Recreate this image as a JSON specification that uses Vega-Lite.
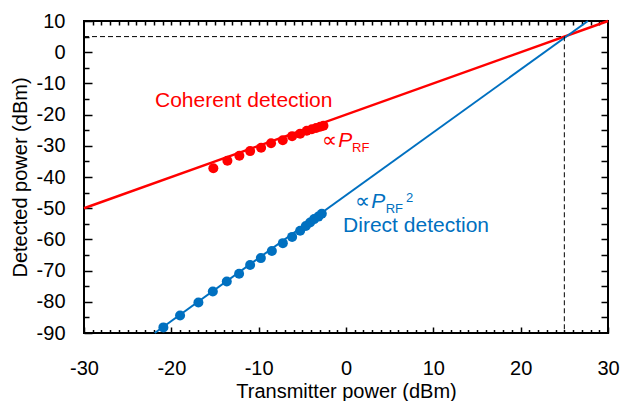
{
  "$schema": "https://vega.github.io/schema/vega-lite/v6.json",
  "width": 524,
  "height": 312,
  "autosize": "none",
  "padding": {"left": 84, "top": 21, "right": 13, "bottom": 68},
  "background": "white",
  "config": {
    "font": "Liberation Sans",
    "view": {"stroke": "black", "strokeWidth": 2},
    "axis": {
      "grid": false,
      "domain": false,
      "labelFont": "Liberation Sans",
      "labelFontSize": 20,
      "labelColor": "black",
      "labelFlush": false,
      "titleFont": "Liberation Sans",
      "titleFontSize": 20,
      "titleFontWeight": "normal",
      "titleColor": "black",
      "tickColor": "black",
      "tickWidth": 1.5
    }
  },
  "datasets": {
    "lines": [
      {"series": "Coherent", "x": -30, "y": -50, "o": 1},
      {"series": "Coherent", "x": 30, "y": 10, "o": 2},
      {"series": "Direct", "x": -21.9, "y": -90, "o": 1},
      {"series": "Direct", "x": 27.7, "y": 10, "o": 2}
    ],
    "dash": [
      {"x": -30, "y": 5, "o": 1},
      {"x": 25, "y": 5, "o": 2},
      {"x": 25, "y": -90, "o": 3}
    ],
    "points": [
      {"series": "Coherent", "x": -15.19, "y": -37.2},
      {"series": "Coherent", "x": -13.58, "y": -34.8},
      {"series": "Coherent", "x": -12.21, "y": -33.2},
      {"series": "Coherent", "x": -10.98, "y": -31.7},
      {"series": "Coherent", "x": -9.72, "y": -30.6},
      {"series": "Coherent", "x": -8.58, "y": -29.2},
      {"series": "Coherent", "x": -7.24, "y": -28.2},
      {"series": "Coherent", "x": -6.17, "y": -26.9},
      {"series": "Coherent", "x": -5.25, "y": -26.1},
      {"series": "Coherent", "x": -4.49, "y": -25.2},
      {"series": "Coherent", "x": -3.91, "y": -24.7},
      {"series": "Coherent", "x": -3.42, "y": -24.3},
      {"series": "Coherent", "x": -2.96, "y": -23.9},
      {"series": "Coherent", "x": -2.58, "y": -23.6},
      {"series": "Direct", "x": -20.91, "y": -88.2},
      {"series": "Direct", "x": -19.0, "y": -84.4},
      {"series": "Direct", "x": -16.9, "y": -80.2},
      {"series": "Direct", "x": -15.25, "y": -76.7},
      {"series": "Direct", "x": -13.65, "y": -73.5},
      {"series": "Direct", "x": -12.24, "y": -71.0},
      {"series": "Direct", "x": -10.98, "y": -68.2},
      {"series": "Direct", "x": -9.75, "y": -66.0},
      {"series": "Direct", "x": -8.49, "y": -63.7},
      {"series": "Direct", "x": -7.23, "y": -61.2},
      {"series": "Direct", "x": -6.17, "y": -59.2},
      {"series": "Direct", "x": -5.25, "y": -57.2},
      {"series": "Direct", "x": -4.6, "y": -55.7},
      {"series": "Direct", "x": -4.11, "y": -54.6},
      {"series": "Direct", "x": -3.65, "y": -53.5},
      {"series": "Direct", "x": -3.16, "y": -52.7},
      {"series": "Direct", "x": -2.77, "y": -51.8}
    ],
    "mainText": [
      {"series": "Coherent", "x": -21.87, "y": -17.6, "label": "Coherent detection"},
      {"series": "Coherent", "x": -2.77, "y": -30.3, "label": "∝"},
      {"series": "Direct", "x": 1.05, "y": -49.8, "label": "∝"},
      {"series": "Direct", "x": -0.33, "y": -57.5, "label": "Direct detection"}
    ],
    "italicText": [
      {"series": "Coherent", "x": -0.9, "y": -30.3, "label": "P"},
      {"series": "Direct", "x": 2.88, "y": -49.8, "label": "P"}
    ],
    "smallText": [
      {"series": "Coherent", "x": 0.7, "y": -31.9, "label": "RF"},
      {"series": "Direct", "x": 4.54, "y": -51.6, "label": "RF"},
      {"series": "Direct", "x": 6.88, "y": -48.1, "label": "2"}
    ]
  },
  "layer": [
    {
      "data": {"name": "lines"},
      "transform": [{"filter": "datum.series == 'Coherent'"}],
      "mark": {"type": "line", "strokeWidth": 2.5},
      "encoding": {
        "x": {"field": "x", "type": "quantitative", "scale": {"domain": [-30, 30], "nice": false, "zero": false},
          "axis": {"orient": "bottom", "values": [-30, -20, -10, 0, 10, 20, 30], "ticks": false, "labelPadding": 25, "labelExpr": "replace(datum.label, '−', '-')", "title": "Transmitter power (dBm)", "titlePadding": 3}},
        "y": {"field": "y", "type": "quantitative", "scale": {"domain": [-90, 10], "nice": false, "zero": false},
          "axis": {"orient": "left", "values": [-90, -80, -70, -60, -50, -40, -30, -20, -10, 0, 10], "ticks": false, "labelPadding": 19, "labelExpr": "replace(datum.label, '−', '-')", "title": "Detected power (dBm)", "titlePadding": 6}},
        "order": {"field": "o"},
        "color": {"field": "series", "type": "nominal", "scale": {"domain": ["Coherent", "Direct"], "range": ["#FF0000", "#0070C0"]}, "legend": null}
      }
    },
    {
      "data": {"name": "lines"},
      "transform": [{"filter": "datum.series == 'Direct'"}],
      "mark": {"type": "line", "strokeWidth": 2},
      "encoding": {
        "x": {"field": "x", "type": "quantitative",
          "axis": {"orient": "bottom", "values": [-30, -20, -10, 0, 10, 20, 30], "labels": false, "offset": -6, "tickSize": 6, "title": null}},
        "y": {"field": "y", "type": "quantitative",
          "axis": {"orient": "left", "values": [-90, -80, -70, -60, -50, -40, -30, -20, -10, 0, 10], "labels": false, "offset": -8, "tickSize": 8, "title": null}},
        "order": {"field": "o"},
        "color": {"field": "series", "type": "nominal", "legend": null}
      }
    },
    {
      "data": {"name": "dash"},
      "mark": {"type": "line", "color": "black", "strokeWidth": 1, "strokeDash": [5, 3]},
      "encoding": {
        "x": {"field": "x", "type": "quantitative",
          "axis": {"orient": "bottom", "values": [-29, -28, -27, -26, -25, -24, -23, -22, -21, -19, -18, -17, -16, -15, -14, -13, -12, -11, -9, -8, -7, -6, -5, -4, -3, -2, -1, 1, 2, 3, 4, 5, 6, 7, 8, 9, 11, 12, 13, 14, 15, 16, 17, 18, 19, 21, 22, 23, 24, 25, 26, 27, 28, 29], "labels": false, "offset": -3.5, "tickSize": 3.5, "title": null}},
        "y": {"field": "y", "type": "quantitative",
          "axis": {"orient": "left", "values": [-85, -75, -65, -55, -45, -35, -25, -15, -5, 5], "labels": false, "offset": -5, "tickSize": 5, "title": null}},
        "order": {"field": "o"}
      }
    },
    {
      "data": {"name": "points"},
      "mark": {"type": "point", "filled": true, "opacity": 1, "size": 100},
      "encoding": {
        "x": {"field": "x", "type": "quantitative",
          "axis": {"orient": "top", "values": [-29, -28, -27, -26, -25, -24, -23, -22, -21, -20, -19, -18, -17, -16, -15, -14, -13, -12, -11, -10, -9, -8, -7, -6, -5, -4, -3, -2, -1, 0, 1, 2, 3, 4, 5, 6, 7, 8, 9, 10, 11, 12, 13, 14, 15, 16, 17, 18, 19, 20, 21, 22, 23, 24, 25, 26, 27, 28, 29], "labels": false, "offset": -4, "tickSize": 4, "title": null}},
        "y": {"field": "y", "type": "quantitative",
          "axis": {"orient": "right", "values": [-85, -80, -75, -70, -65, -60, -55, -50, -45, -40, -35, -30, -25, -20, -15, -10, -5, 0, 5], "labels": false, "offset": -7, "tickSize": 7, "title": null}},
        "color": {"field": "series", "type": "nominal", "legend": null}
      }
    },
    {
      "data": {"name": "mainText"},
      "mark": {"type": "text", "align": "left", "baseline": "alphabetic", "fontSize": 21, "font": "Liberation Sans"},
      "encoding": {
        "x": {"field": "x", "type": "quantitative", "axis": null},
        "y": {"field": "y", "type": "quantitative", "axis": null},
        "text": {"field": "label"},
        "color": {"field": "series", "type": "nominal", "legend": null}
      }
    },
    {
      "data": {"name": "italicText"},
      "mark": {"type": "text", "align": "left", "baseline": "alphabetic", "fontSize": 21, "fontStyle": "italic", "font": "Liberation Sans"},
      "encoding": {
        "x": {"field": "x", "type": "quantitative", "axis": null},
        "y": {"field": "y", "type": "quantitative", "axis": null},
        "text": {"field": "label"},
        "color": {"field": "series", "type": "nominal", "legend": null}
      }
    },
    {
      "data": {"name": "smallText"},
      "mark": {"type": "text", "align": "left", "baseline": "alphabetic", "fontSize": 13, "font": "Liberation Sans"},
      "encoding": {
        "x": {"field": "x", "type": "quantitative", "axis": null},
        "y": {"field": "y", "type": "quantitative", "axis": null},
        "text": {"field": "label"},
        "color": {"field": "series", "type": "nominal", "legend": null}
      }
    }
  ],
  "resolve": {"axis": {"x": "independent", "y": "independent"}}
}
